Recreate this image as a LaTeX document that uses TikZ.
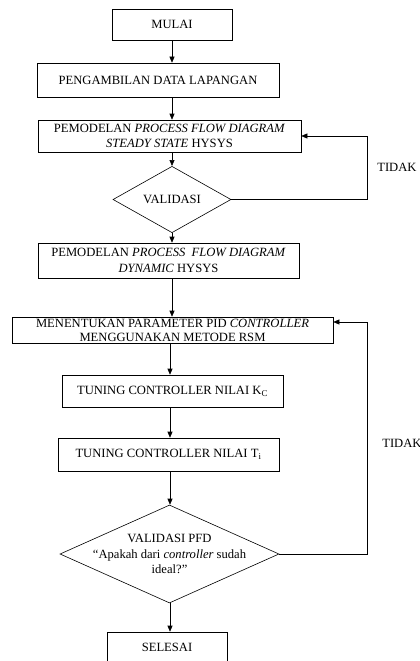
\documentclass[tikz,border=0pt]{standalone}
\usepackage{fontspec}
\setmainfont{Liberation Serif}
\usetikzlibrary{arrows.meta, shapes.geometric, calc, positioning}

\begin{document}
\begin{tikzpicture}[x=1pt, y=-1pt, line width=0.6pt, font=\fontsize{12.6}{15.5}\selectfont]
  \tikzstyle{kotak}=[draw, rectangle, align=center, inner sep=2pt]
  \tikzstyle{belah}=[draw, diamond, inner sep=0pt]
  \tikzstyle{panah}=[-{Triangle[length=6pt, width=5pt]}]

  \useasboundingbox (0,0) rectangle (420,661);

  % kolom panah
  \coordinate (kolA) at (172,0);
  \coordinate (kolB) at (170,0);
  % jalur balik (TIDAK)
  \coordinate (balikA) at (367,136);
  \coordinate (balikB) at (367,322);

  % Kotak proses
  \node[kotak, minimum width=120pt, minimum height=31pt] (mulai) at (172,24.5) {MULAI};
  \node[kotak, minimum width=242pt, minimum height=34pt] (ambil) at (158,80) {PENGAMBILAN DATA LAPANGAN};
  \node[kotak, minimum width=263pt, minimum height=32pt, inner sep=0pt] (steady) at (169.5,136)
  {PEMODELAN \textit{PROCESS FLOW DIAGRAM}\\ \textit{STEADY STATE} HYSYS};
  \node[belah, minimum width=118pt, minimum height=53pt] (valid) at (172,199.5) {VALIDASI};
  \node[kotak, minimum width=261pt, minimum height=35pt, inner sep=0pt] (dinamik) at (168.5,260.5)
  {PEMODELAN \textit{PROCESS\ \ FLOW DIAGRAM}\\ \textit{DYNAMIC} HYSYS};
  \node[kotak, minimum width=321pt, minimum height=26pt, inner sep=0pt,
    font=\fontsize{12.6}{14}\selectfont] (tentu) at (172.5,330)
  {MENENTUKAN PARAMETER PID \textit{CONTROLLER}\\ MENGGUNAKAN METODE RSM};
  \node[kotak, minimum width=221pt, minimum height=32pt] (tunekc) at (172.5,391)
  {TUNING CONTROLLER NILAI K\textsubscript{C}};
  \node[kotak, minimum width=221pt, minimum height=33pt] (tuneti) at (168.5,454.5)
  {TUNING CONTROLLER NILAI T\textsubscript{i}};
  \node[belah, minimum width=219pt, minimum height=98pt,
    label={[align=center]center:VALIDASI PFD\\ “Apakah dari \textit{controller} sudah\\ ideal?”}]
  (pfd) at (169.5,554) {};
  \node[kotak, minimum width=120pt, minimum height=31pt] (selesai) at (167,647.5) {SELESAI};

  % Panah utama
  \draw[panah] (mulai.south -| kolA) -- (ambil.north -| kolA);
  \draw[panah] (ambil.south -| kolA) -- (steady.north -| kolA);
  \draw[panah] (steady.south -| kolA) -- (valid.north);
  \draw[panah] (valid.south) -- (dinamik.north -| kolA);
  \draw[panah] (dinamik.south -| kolA) -- (tentu.north -| kolA);
  \draw[panah] (tentu.south -| kolB) -- (tunekc.north -| kolB);
  \draw[panah] (tunekc.south -| kolB) -- (tuneti.north -| kolB);
  \draw[panah] (tuneti.south -| kolB) -- (pfd.north -| kolB);
  \draw[panah] (pfd.south -| kolB) -- (selesai.north -| kolB);

  % Jalur balik
  \draw[panah] (valid.east) -| (balikA) -- (steady.east);
  \draw[panah] (pfd.east) -| (balikB) -- (tentu.east |- balikB);

  % Label
  \node[anchor=west, inner sep=0pt] (tidakA) at (377,167) {TIDAK};
  \node[anchor=west, inner sep=0pt] (tidakB) at (382,443) {TIDAK};
\end{tikzpicture}
\end{document}
